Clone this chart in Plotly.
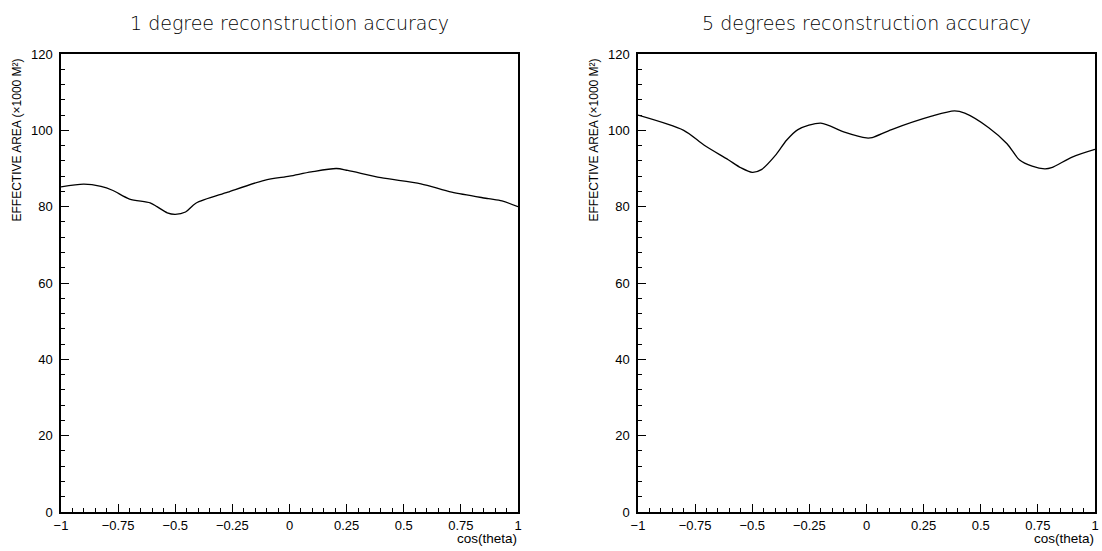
import plotly.graph_objects as go

# ---- data ----
cos1 = [-1.0, -0.9, -0.825, -0.775, -0.7, -0.61, -0.58, -0.535, -0.5, -0.455, -0.41,
        -0.27, -0.11, 0.0, 0.095, 0.205, 0.255, 0.4, 0.575, 0.71, 0.87, 0.93, 1.0]
area1 = [85.2, 85.9, 85.3, 84.3, 82.0, 81.0, 80.0, 78.4, 78.0, 78.6, 80.9,
         83.8, 86.9, 88.0, 89.1, 90.0, 89.5, 87.6, 86.0, 83.8, 82.1, 81.5, 80.0]

cos5 = [-1.0, -0.8, -0.71, -0.605, -0.55, -0.5, -0.46, -0.395, -0.35, -0.3, -0.2,
        -0.1, 0.0, 0.025, 0.11, 0.285, 0.385, 0.43, 0.535, 0.615, 0.67, 0.725, 0.78,
        0.81, 0.9, 1.0]
area5 = [104.0, 100.0, 96.1, 92.3, 90.2, 89.0, 89.7, 93.7, 97.4, 100.2, 101.9,
         99.6, 98.0, 98.1, 100.2, 103.7, 105.1, 104.5, 100.7, 96.5, 92.2, 90.6, 89.9,
         90.2, 93.0, 95.0]

titles = ["1 degree reconstruction accuracy", "5 degrees reconstruction accuracy"]
ytitle = "EFFECTIVE AREA (×1000 M²)"
xtitle = "cos(theta)"
xticks = [-1, -0.75, -0.5, -0.25, 0, 0.25, 0.5, 0.75, 1]
xticklabels = ["−1", "−0.75", "−0.5", "−0.25", "0", "0.25", "0.5", "0.75", "1"]
yticks = [0, 20, 40, 60, 80, 100, 120]

W, H = 1102, 551
left_dom = [61 / W, 518 / W]
right_dom = [638 / W, 1095 / W]
ydom = [(H - 512) / H, (H - 54) / H]

fig = go.Figure()
fig.add_trace(go.Scatter(x=cos1, y=area1, mode="lines",
                         line=dict(color="black", width=1.3, shape="spline", smoothing=0.8),
                         xaxis="x", yaxis="y", showlegend=False, hoverinfo="skip"))
fig.add_trace(go.Scatter(x=cos5, y=area5, mode="lines",
                         line=dict(color="black", width=1.3, shape="spline", smoothing=0.8),
                         xaxis="x2", yaxis="y2", showlegend=False, hoverinfo="skip"))

SANS = "Liberation Sans, Arial, sans-serif"
tickfont = dict(family=SANS, size=13, color="black")

def xax(dom, anchor):
    return dict(domain=dom, anchor=anchor, range=[-1, 1], tickmode="array",
                tickvals=xticks, ticktext=xticklabels, ticks="inside", ticklen=8,
                tickwidth=1, tickcolor="black", showline=True, linecolor="black",
                linewidth=1.5, mirror=True, showgrid=False, zeroline=False,
                tickfont=tickfont, automargin=False, ticklabelstandoff=1,
                minor=dict(dtick=0.05, tick0=-1, ticks="inside", ticklen=4,
                           tickcolor="black", tickwidth=1, showgrid=False))

def yax(anchor):
    return dict(domain=ydom, anchor=anchor, range=[0, 120], tickmode="array",
                tickvals=yticks, ticks="inside", ticklen=8, tickwidth=1,
                tickcolor="black", showline=True, linecolor="black", linewidth=1.5,
                mirror=True, showgrid=False, zeroline=False, tickfont=tickfont,
                automargin=False, ticklabelstandoff=4,
                minor=dict(dtick=4, tick0=0, ticks="inside", ticklen=4,
                           tickcolor="black", tickwidth=1, showgrid=False))

fig.update_layout(
    width=W, height=H, autosize=False,
    margin=dict(l=0, r=0, t=0, b=0, pad=0),
    paper_bgcolor="white", plot_bgcolor="white",
    xaxis=xax(left_dom, "y"), yaxis=yax("x"),
    xaxis2=xax(right_dom, "y2"), yaxis2=yax("x2"),
)

annots = []
for dom, t, ytx in [(left_dom, titles[0], 16 / W), (right_dom, titles[1], 593 / W)]:
    annots.append(dict(text=t, x=(dom[0] + dom[1]) / 2, y=(H - 23) / H, xref="paper",
                       yref="paper", showarrow=False, xanchor="center", yanchor="middle",
                       font=dict(family="DejaVu Sans, sans-serif", size=19, weight=200,
                                 color="black")))
    annots.append(dict(text=ytitle, x=ytx, y=(H - 57) / H, xref="paper", yref="paper",
                       showarrow=False, textangle=-90, xanchor="center", yanchor="top",
                       font=dict(family=SANS, size=12, color="black")))
    annots.append(dict(text=xtitle, x=dom[1] + 1 / W, y=(H - 538) / H, xref="paper",
                       yref="paper", showarrow=False, xanchor="right", yanchor="middle",
                       font=dict(family=SANS, size=13.5, color="black")))
fig.update_layout(annotations=annots)

fig.write_html("out.html", config={"displayModeBar": False},
               post_script="document.body.style.margin='0';")
